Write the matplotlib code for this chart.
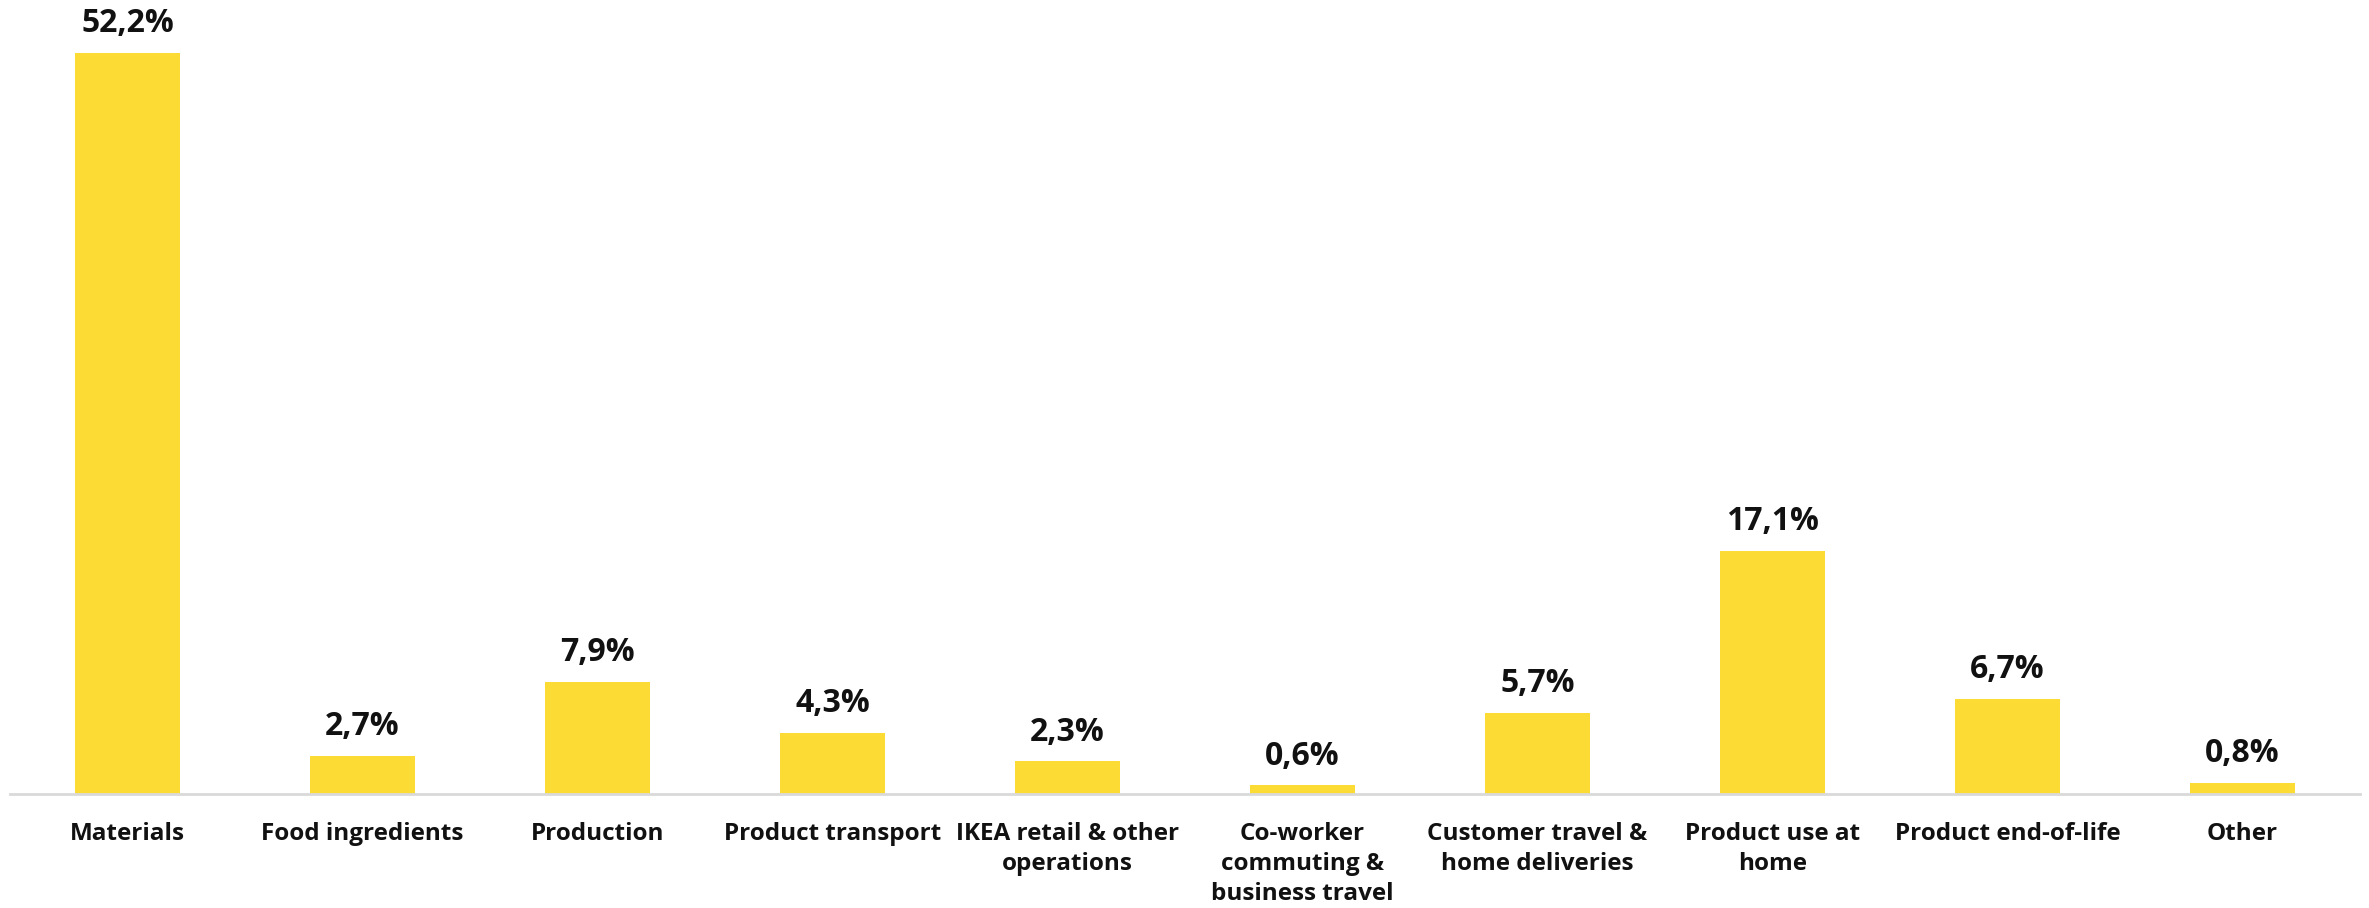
import matplotlib
matplotlib.use('Agg')
import matplotlib.pyplot as plt
import numpy as np

plt.rcParams['font.family'] = ['Open Sans', 'Noto Sans', 'DejaVu Sans']

# Data
categories = [
    'Materials',
    'Food ingredients',
    'Production',
    'Product transport',
    'IKEA retail & other\noperations',
    'Co-worker\ncommuting &\nbusiness travel',
    'Customer travel &\nhome deliveries',
    'Product use at\nhome',
    'Product end-of-life',
    'Other',
]
shares = [52.2, 2.7, 7.9, 4.3, 2.3, 0.6, 5.7, 17.1, 6.7, 0.8]
value_labels = ['52,2%', '2,7%', '7,9%', '4,3%', '2,3%', '0,6%', '5,7%', '17,1%', '6,7%', '0,8%']

BAR_COLOR = '#FDDB35'

fig = plt.figure(figsize=(23.69, 9.08), dpi=100)
ax = fig.add_axes([10 / 2369, 114 / 908, 2350 / 2369, 794 / 908])

x = np.arange(len(categories))
bars = ax.bar(x, shares, width=0.45, color=BAR_COLOR, zorder=2)

# percentage labels above each bar
for rect, label in zip(bars, value_labels):
    ax.annotate(label, (rect.get_x() + rect.get_width() / 2, rect.get_height()),
                xytext=(0, 15), textcoords='offset points',
                ha='center', va='baseline', fontsize=23, fontweight='bold',
                color='#111111')

ax.set_xlim(-0.5, len(categories) - 0.5)
ax.set_ylim(0, 52.2 * 794 / 741)

ax.set_xticks(x)
ax.set_xticklabels(categories, fontsize=17.5, fontweight='bold', color='#111111',
                   linespacing=1.33)
ax.tick_params(axis='x', length=0, pad=20)
ax.set_yticks([])

for side in ['top', 'left', 'right']:
    ax.spines[side].set_visible(False)
ax.spines['bottom'].set_color('#D9D9D9')
ax.spines['bottom'].set_linewidth(2)

fig.savefig('out.png', dpi=100)
